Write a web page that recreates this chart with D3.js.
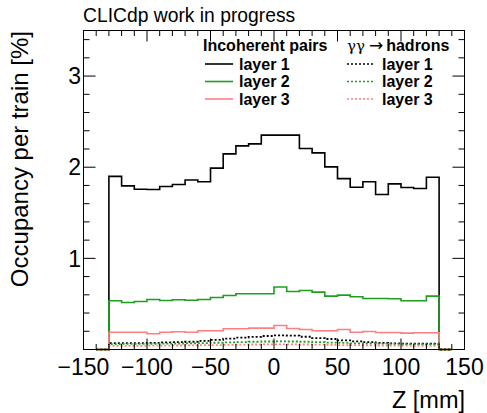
<!DOCTYPE html>
<html>
<head>
<meta charset="utf-8">
<script src="https://cdn.jsdelivr.net/npm/d3@7"></script>
<style>
  html, body { margin: 0; padding: 0; background: #fff; }
  svg { display: block; font-family: "Liberation Sans", Arial, Helvetica, sans-serif; }
</style>
</head>
<body>
<svg id="chart" width="487" height="413"></svg>
<script>
// ---- data ----
// bin lower edges in mm (bin width 10 mm); histograms span -140..140, outer bins empty
const binLow = [-130,-120,-110,-100,-90,-80,-70,-60,-50,-40,-30,-20,-10,0,10,20,30,40,50,60,70,80,90,100,110,120];
const binWidth = 10;
const histRange = [-140, 140];

const incoherentL1 = [1.90,1.795,1.758,1.755,1.788,1.81,1.86,1.84,1.99,2.146,2.234,2.256,2.352,2.352,2.352,2.205,2.157,2.004,1.875,1.78,1.84,1.70,1.817,1.777,1.766,1.89];
const incoherentL2 = [0.535,0.516,0.527,0.549,0.538,0.546,0.54,0.549,0.571,0.593,0.612,0.612,0.612,0.685,0.637,0.648,0.63,0.586,0.597,0.579,0.56,0.56,0.557,0.535,0.535,0.586];
const incoherentL3 = [0.19,0.19,0.19,0.172,0.19,0.194,0.19,0.205,0.205,0.227,0.227,0.234,0.234,0.264,0.231,0.22,0.205,0.205,0.22,0.19,0.198,0.187,0.187,0.18,0.183,0.183];
const hadronsL1 = [0.07,0.07,0.07,0.072,0.078,0.08,0.085,0.095,0.105,0.12,0.13,0.138,0.148,0.155,0.152,0.14,0.125,0.115,0.1,0.09,0.08,0.072,0.068,0.065,0.065,0.065];
const hadronsL2 = [0.06,0.062,0.062,0.063,0.065,0.066,0.068,0.07,0.074,0.078,0.082,0.085,0.088,0.09,0.088,0.085,0.08,0.076,0.072,0.068,0.066,0.064,0.062,0.06,0.06,0.06];
const hadronsL3 = [0.04,0.04,0.041,0.042,0.043,0.044,0.045,0.047,0.049,0.051,0.053,0.055,0.056,0.057,0.056,0.055,0.053,0.051,0.049,0.047,0.045,0.044,0.043,0.042,0.041,0.04];

const xDomain = [-150, 150];
const yDomain = [0, 3.5];
const xTickLabels = [-150,-100,-50,0,50,100,150];
const yTickLabels = [1,2,3];

const legendHeaders = ["Incoherent pairs", "γγ → hadrons"];
const legendLabels = ["layer 1", "layer 2", "layer 3"];
const layerColors = ["#000000", "#1f9e1f", "#ff7f7f"];

// ---- layout ----
const svg = d3.select("#chart");
const W = 487, H = 413;
const m = { left: 83.5, right: 464.5, top: 30.5, bottom: 349.5 };

svg.append("rect").attr("width", W).attr("height", H).attr("fill", "#fff");

const x = d3.scaleLinear().domain(xDomain).range([m.left, m.right]);
const y = d3.scaleLinear().domain(yDomain).range([m.bottom, m.top]);

// ---- histograms ----
function histPoints(vals) {
  const pts = [[histRange[0], 0], [binLow[0], 0]];
  vals.forEach((v, i) => {
    pts.push([binLow[i], v]);
    pts.push([binLow[i] + binWidth, v]);
  });
  const last = binLow[binLow.length - 1] + binWidth;
  pts.push([last, 0]);
  pts.push([histRange[1], 0]);
  return pts;
}
const line = d3.line().x(d => x(d[0])).y(d => y(d[1]));

const plot = svg.append("g");
const solidSeries = [incoherentL1, incoherentL2, incoherentL3];
const dottedSeries = [hadronsL1, hadronsL2, hadronsL3];
solidSeries.forEach((s, i) => {
  plot.append("path").attr("d", line(histPoints(s)))
    .attr("fill", "none").attr("stroke", layerColors[i]).attr("stroke-width", 1.6);
});
dottedSeries.forEach((s, i) => {
  plot.append("path").attr("d", line(histPoints(s)))
    .attr("fill", "none").attr("stroke", layerColors[i]).attr("stroke-width", 1.8)
    .attr("stroke-dasharray", "2,2");
});

// ---- axes (ROOT style, ticks inward on all sides) ----
const ax = svg.append("g").attr("stroke", "#000").attr("stroke-width", 1);
const xMinor = d3.range(xDomain[0], xDomain[1] + 0.001, 10);
xMinor.forEach(v => {
  const major = Math.abs(v % 50) < 1e-6;
  const len = major ? 11 : 5.5;
  ax.append("line").attr("x1", x(v)).attr("x2", x(v)).attr("y1", m.bottom).attr("y2", m.bottom - len);
  ax.append("line").attr("x1", x(v)).attr("x2", x(v)).attr("y1", m.top).attr("y2", m.top + len);
});
const yMinor = d3.range(0, 3.5001, 0.2);
yMinor.forEach(v => {
  const major = Math.abs(v - Math.round(v)) < 1e-6;
  const len = major ? 12 : 6;
  ax.append("line").attr("x1", m.left).attr("x2", m.left + len).attr("y1", y(v)).attr("y2", y(v));
  ax.append("line").attr("x1", m.right).attr("x2", m.right - len).attr("y1", y(v)).attr("y2", y(v));
});
svg.append("rect").attr("x", m.left).attr("y", m.top)
  .attr("width", m.right - m.left).attr("height", m.bottom - m.top)
  .attr("fill", "none").attr("stroke", "#000").attr("stroke-width", 1);

// tick labels
svg.append("g").selectAll("text").data(xTickLabels).join("text")
  .attr("x", d => x(d)).attr("y", 375)
  .attr("text-anchor", "middle").attr("font-size", 23).attr("fill", "#000")
  .text(d => d < 0 ? "\u2212" + Math.abs(d) : String(d));
svg.append("g").selectAll("text").data(yTickLabels).join("text")
  .attr("x", 81).attr("y", d => y(d) + 8.2)
  .attr("text-anchor", "end").attr("font-size", 23).attr("fill", "#000")
  .text(d => String(d));

// axis titles
svg.append("text").attr("x", 465).attr("y", 408).attr("text-anchor", "end")
  .attr("font-size", 23.5).attr("fill", "#000").text("Z [mm]");
svg.append("text").attr("transform", "translate(28,31) rotate(-90)")
  .attr("text-anchor", "end").attr("font-size", 24).attr("fill", "#000")
  .text("Occupancy per train [%]");

// title
svg.append("text").attr("x", 83).attr("y", 21.5).attr("font-size", 19.3).attr("fill", "#000")
  .text("CLICdp work in progress");

// ---- legend ----
const lg = svg.append("g").attr("font-size", 16).attr("font-weight", "bold").attr("fill", "#000");
lg.append("text").attr("x", 203).attr("y", 50.5).text(legendHeaders[0]);
const h2 = lg.append("text").attr("x", 347).attr("y", 50.5);
h2.append("tspan").attr("font-weight", "normal").attr("font-family", "'DejaVu Serif', 'Liberation Serif', serif")
  .attr("font-size", 15).text("γγ");
h2.append("tspan").attr("font-weight", "normal").attr("font-family", "'DejaVu Sans', sans-serif")
  .attr("font-size", 17).attr("dx", 4).text("→");
h2.append("tspan").attr("dx", 3).text("hadrons");

const rowY = [64, 81.5, 99];
legendLabels.forEach((lab, i) => {
  lg.append("line").attr("x1", 205).attr("x2", 233).attr("y1", rowY[i]).attr("y2", rowY[i])
    .attr("stroke", layerColors[i]).attr("stroke-width", 1.6);
  lg.append("text").attr("x", 239).attr("y", rowY[i] + 5.5).text(lab);
  lg.append("line").attr("x1", 347).attr("x2", 375).attr("y1", rowY[i]).attr("y2", rowY[i])
    .attr("stroke", layerColors[i]).attr("stroke-width", 1.6).attr("stroke-dasharray", "2,2");
  lg.append("text").attr("x", 382).attr("y", rowY[i] + 5.5).text(lab);
});
</script>
</body>
</html>
